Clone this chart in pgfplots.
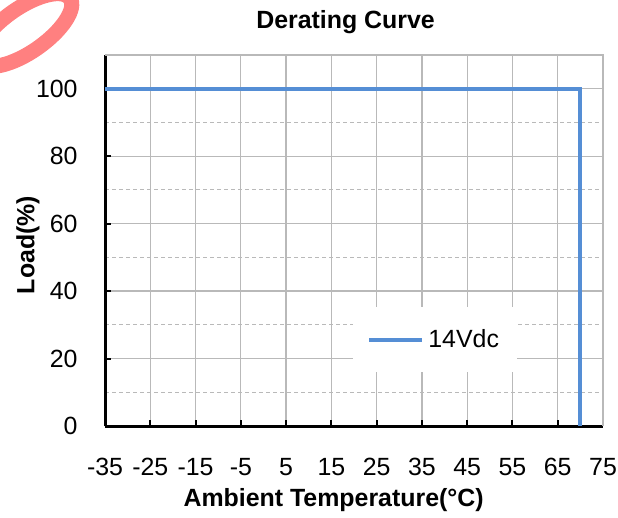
\documentclass[border=0pt]{standalone}
\usepackage{fontspec}
\setmainfont{Liberation Sans}
\usepackage{pgfplots}
\pgfplotsset{compat=1.18}
\definecolor{curveblue}{RGB}{85,142,213}
\definecolor{gridgray}{RGB}{185,185,185}
\definecolor{markred}{RGB}{255,128,128}
\begin{document}
\begin{tikzpicture}
\useasboundingbox (0,0) rectangle (309bp,259bp);
% stray mark in the top left corner of the reference
\draw[markred, line width=7.5bp, rotate around={35:(12.5bp,244bp)}]
  (12.5bp,244bp) ellipse [x radius=27.5bp, y radius=11bp];
\begin{axis}[
    at={(52.5bp,46bp)}, anchor=south west,
    scale only axis,
    width=249bp, height=185.5bp,
    xmin=-35, xmax=75, ymin=0, ymax=110,
    xtick={-35,-25,...,75},
    ytick={0,20,...,100},
    minor ytick={10,30,...,90},
    axis x line*=bottom, axis y line*=left,
    axis line style={line width=1.5bp, black, -},
    tick style={line width=1bp, black},
    major tick length=3bp, minor tick length=0pt,
    tick align=inside,
    grid=both,
    major grid style={gridgray, line width=0.6bp, solid},
    minor grid style={gridgray, line width=0.5bp, dash pattern=on 2bp off 1.5bp},
    font=\fontsize{12.5}{15}\selectfont,
    /pgf/number format/assume math mode=true,
    xticklabel style={anchor=center, yshift=-20.7bp, inner sep=0pt},
    yticklabel style={anchor=east, xshift=-13.5bp, inner sep=0pt},
    title={\bfseries Derating Curve},
    title style={at={(axis description cs:0.483,1.057)}, anchor=center, inner sep=0pt},
    xlabel={\bfseries Ambient Temperature(°C)},
    xlabel style={at={(axis description cs:0.459,-0.1995)}, anchor=center, inner sep=0pt},
    ylabel={\bfseries Load(\%)},
    ylabel style={at={(axis description cs:-0.1546,0.488)}, anchor=center, inner sep=0pt},
    legend style={at={(axis description cs:0.663,0.232)}, anchor=center,
        draw=none, fill=white, inner xsep=7bp, inner ysep=9bp,
        font=\fontsize{12.5}{15}\selectfont},
    legend image code/.code={\draw[#1] (0bp,0bp) -- (26.5bp,0bp);},
    clip=false,
]
\addplot[curveblue, line width=2bp] coordinates {
    (-35,100) (70,100) (70,0)
};
\addlegendentry{14Vdc}
\draw[gridgray, line width=0.6bp] (axis cs:-35,110) -- (axis cs:75,110) -- (axis cs:75,0);
\end{axis}
\end{tikzpicture}
\end{document}
